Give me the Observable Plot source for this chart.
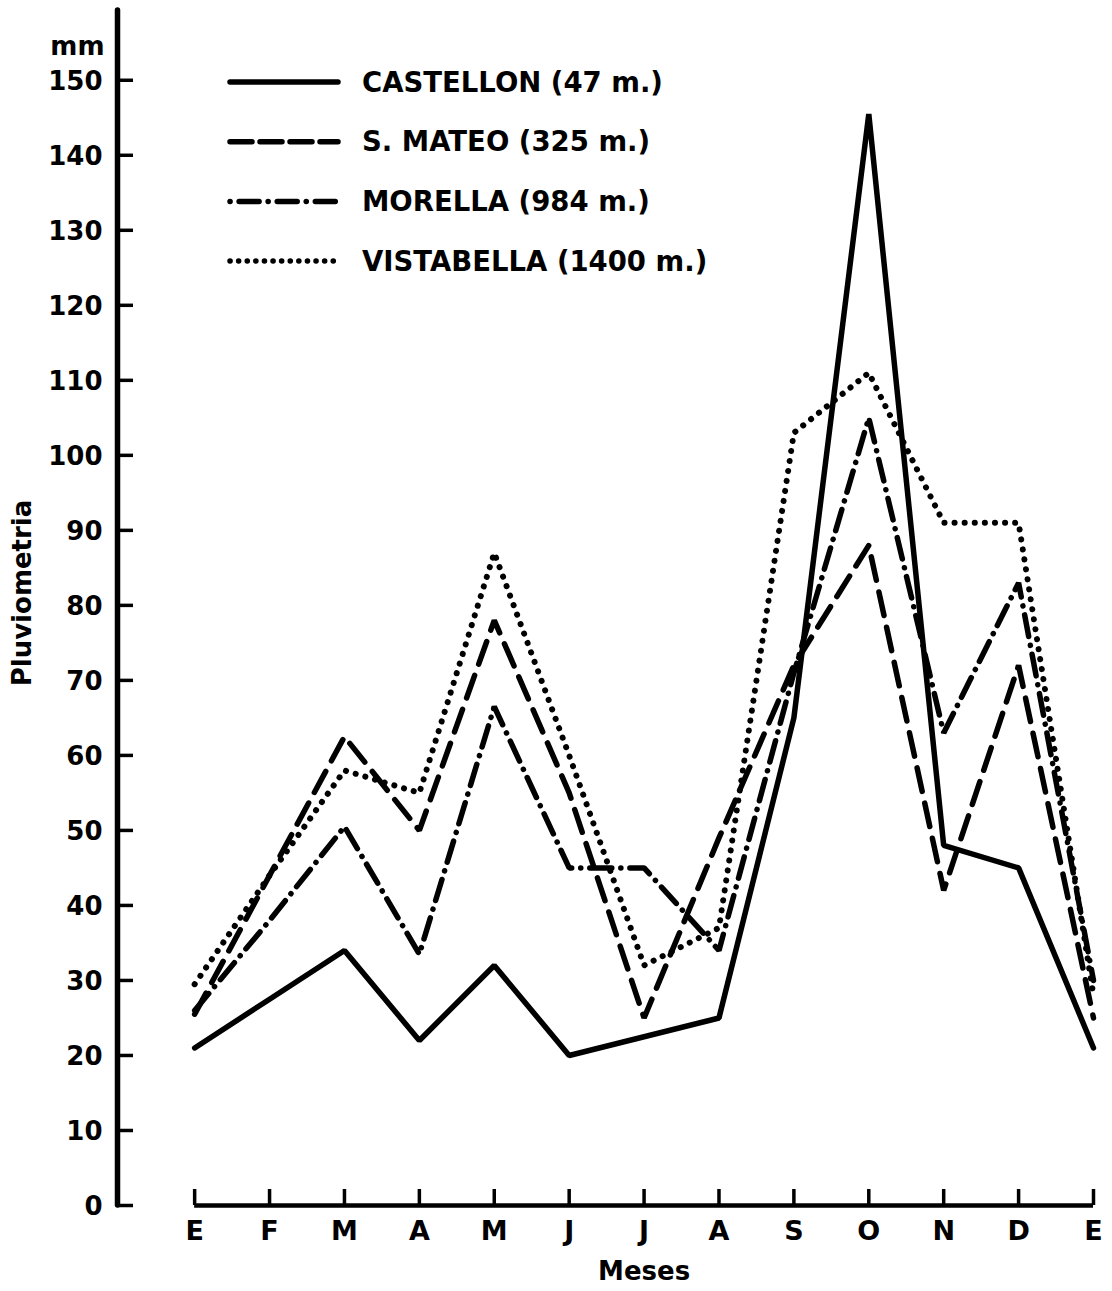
<!DOCTYPE html>
<html><head><meta charset="utf-8">
<script src="https://cdn.jsdelivr.net/npm/d3@7"></script>
<script src="https://cdn.jsdelivr.net/npm/@observablehq/plot@0.6"></script>
<style>
html,body{margin:0;padding:0;background:#fff;}
#wrap{position:relative;width:1112px;height:1291px;}
#legend{position:absolute;left:0;top:0;}
</style></head><body>
<div id="wrap"></div>
<script>
// ---- data ----
const months = ["E","F","M","A","M","J","J","A","S","O","N","D","E"];
const castellon  = [21, 27.5, 34, 22, 32, 20, 22.5, 25, 65, 145.5, 48, 45, 21];
const sanMateo   = [25.5, 44, 62.5, 50, 78, 55, 25, 49, 72, 88, 42, 72, 25];
const morella    = [26, 38, 50.5, 33.5, 66.5, 45, 45, 34, 71, 105, 63, 83, 30];
const vistabella = [29.5, 44, 58, 55, 87, 60, 32, 37, 103, 111, 91, 91, 28];
const seriesNames = ["CASTELLON (47 m.)", "S. MATEO (325 m.)", "MORELLA (984 m.)", "VISTABELLA (1400 m.)"];
const yTicks = d3.range(0, 151, 10);
const yLabel = "Pluviometria";
const xLabel = "Meses";
const unitLabel = "mm";

// ---- styles ----
const FONT = "'DejaVu Sans', sans-serif";
const seriesValues = [castellon, sanMateo, morella, vistabella];
const seriesStyle = [
  {strokeWidth: 5.5, strokeDasharray: null, strokeLinecap: "round"},
  {strokeWidth: 5.5, strokeDasharray: "24,12", strokeLinecap: "round"},
  {strokeWidth: 5.5, strokeDasharray: "22,9,0.1,9", strokeLinecap: "round"},
  {strokeWidth: 6, strokeDasharray: "0.1,10", strokeLinecap: "round"}
];
const legendDash = [null, "22,8", "0.1,9,20,9", "0.1,8.5"];

const rows = [];
seriesNames.forEach((s, k) => seriesValues[k].forEach((v, i) => rows.push({series: s, i, v})));

const xMin = -1.03, xMax = months.length - 1;
const idx = d3.range(months.length);

const lineMarks = seriesNames.map((s, k) =>
  Plot.line(rows.filter(r => r.series === s), {
    x: "i", y: "v", stroke: "#000", strokeLinejoin: "miter", ...seriesStyle[k]
  })
);

const chart = Plot.plot({
  width: 1112, height: 1291,
  marginLeft: 117, marginRight: 19, marginTop: 10, marginBottom: 86,
  style: {fontFamily: FONT, fontWeight: "bold", background: "#fff", color: "#000", overflow: "visible"},
  x: {domain: [xMin, xMax], axis: null},
  y: {domain: [0, 159.3], axis: null},
  marks: [
    Plot.ruleX([xMin], {stroke: "#000", strokeWidth: 5.5, strokeLinecap: "round"}),
    Plot.ruleY(yTicks, {stroke: "#000", strokeWidth: 3.5, insetRight: 960}),
    Plot.ruleY([0], {x1: 0, x2: xMax, stroke: "#000", strokeWidth: 4.5}),
    Plot.ruleX(idx, {stroke: "#000", strokeWidth: 3.5, insetTop: 1179}),
    Plot.text(yTicks, {y: d => d, frameAnchor: "left", dx: -15, dy: 1, textAnchor: "end", text: d => String(d), fontSize: 26, fontWeight: "bold", fill: "#000"}),
    Plot.text([unitLabel], {frameAnchor: "top-left", dx: -13, dy: 26, textAnchor: "end", text: d => d, fontSize: 26, fontWeight: "bold", fill: "#000"}),
    Plot.text(months, {x: (d, i) => i, frameAnchor: "bottom", dy: 34, text: d => d, fontSize: 27, fontWeight: "bold", fill: "#000"}),
    Plot.text([xLabel], {x: xMax / 2, frameAnchor: "bottom", dy: 74, text: d => d, fontSize: 26, fontWeight: "bold", fill: "#000"}),
    Plot.text([yLabel], {frameAnchor: "left", dx: -95, dy: -15, rotate: -90, textAnchor: "middle", text: d => d, fontSize: 26, fontWeight: "bold", fill: "#000"}),
    ...lineMarks
  ]
});
const wrap = document.getElementById("wrap");
wrap.appendChild(chart);

// ---- legend overlay ----
const ns = "http://www.w3.org/2000/svg";
const lg = document.createElementNS(ns, "svg");
lg.setAttribute("id", "legend");
lg.setAttribute("width", 760); lg.setAttribute("height", 300);
seriesNames.forEach((s, k) => {
  const y = 82 + k * 59.7;
  const ln = document.createElementNS(ns, "line");
  ln.setAttribute("x1", 230); ln.setAttribute("x2", 338);
  ln.setAttribute("y1", y); ln.setAttribute("y2", y);
  ln.setAttribute("stroke", "#000"); ln.setAttribute("stroke-width", 5.5);
  ln.setAttribute("stroke-linecap", "round");
  if (legendDash[k]) ln.setAttribute("stroke-dasharray", legendDash[k]);
  lg.appendChild(ln);
  const t = document.createElementNS(ns, "text");
  t.setAttribute("x", 362); t.setAttribute("y", y);
  t.setAttribute("dy", "0.35em");
  t.setAttribute("font-family", FONT); t.setAttribute("font-weight", "bold");
  t.setAttribute("font-size", 27.5);
  t.textContent = s;
  lg.appendChild(t);
});
wrap.appendChild(lg);
</script>
</body></html>
